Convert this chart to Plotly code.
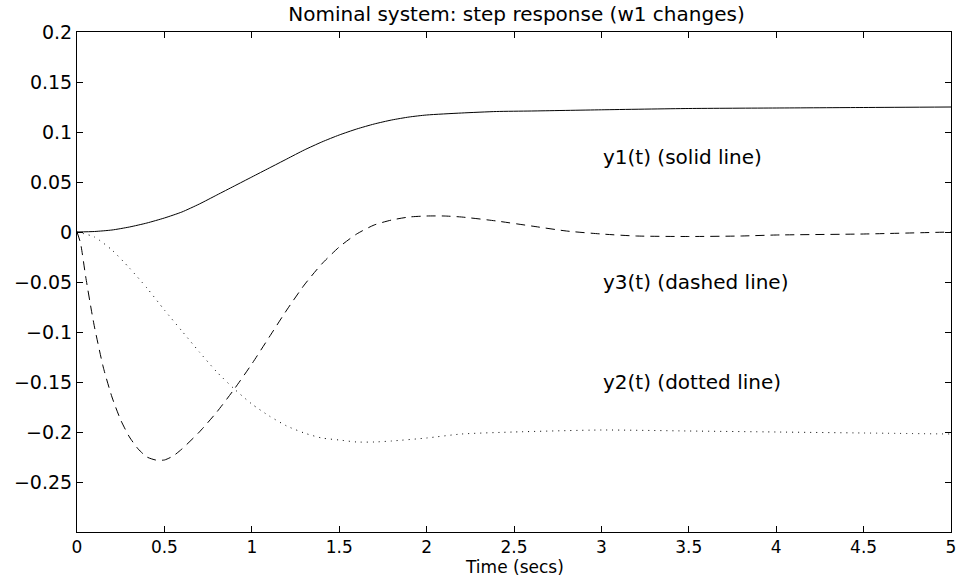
import plotly.graph_objects as go

t1 = [0, 0.1, 0.2, 0.3, 0.4, 0.5, 0.6, 0.7, 0.8, 0.9, 1.0, 1.1, 1.2, 1.3, 1.4, 1.5, 1.6, 1.7, 1.8, 1.9, 2.0, 2.2, 2.4, 2.6, 3.0, 3.5, 4.0, 4.5, 5.0]
y1 = [0, 0.0005, 0.002, 0.005, 0.009, 0.014, 0.020, 0.028, 0.037, 0.046, 0.055, 0.064, 0.073, 0.082, 0.090, 0.097, 0.103, 0.108, 0.112, 0.115, 0.117, 0.119, 0.1205, 0.121, 0.1222, 0.1235, 0.124, 0.1245, 0.125]

t2 = [0, 0.1, 0.2, 0.3, 0.4, 0.5, 0.6, 0.7, 0.8, 0.9, 1.0, 1.1, 1.2, 1.3, 1.4, 1.5, 1.6, 1.7, 1.8, 2.0, 2.2, 2.5, 3.0, 3.5, 4.0, 4.5, 5.0]
y2 = [0, -0.005, -0.018, -0.036, -0.056, -0.078, -0.099, -0.12, -0.14, -0.157, -0.172, -0.184, -0.194, -0.201, -0.206, -0.208, -0.21, -0.21, -0.209, -0.206, -0.202, -0.2, -0.198, -0.199, -0.2, -0.201, -0.202]

t3 = [0, 0.02, 0.05, 0.085, 0.1, 0.15, 0.2, 0.25, 0.3, 0.35, 0.4, 0.45, 0.5, 0.55, 0.6, 0.7, 0.8, 0.9, 1.0, 1.1, 1.2, 1.3, 1.4, 1.5, 1.6, 1.7, 1.8, 1.9, 2.0, 2.1, 2.2, 2.4, 2.6, 2.8, 3.0, 3.2, 3.5, 3.8, 4.0, 4.5, 5.0]
y3 = [0, -0.011, -0.045, -0.081, -0.095, -0.135, -0.165, -0.188, -0.205, -0.217, -0.225, -0.228, -0.228, -0.224, -0.217, -0.2, -0.18, -0.157, -0.132, -0.105, -0.078, -0.053, -0.032, -0.015, -0.002, 0.007, 0.012, 0.015, 0.016, 0.016, 0.015, 0.011, 0.006, 0.001, -0.002, -0.004, -0.0045, -0.004, -0.003, -0.002, 0.0]

labels = ["y1(t) (solid line)", "y3(t) (dashed line)", "y2(t) (dotted line)"]
label_x = [3.0, 3.0, 3.0]
label_y = [0.075, -0.05, -0.15]

xticks = [0, 0.5, 1, 1.5, 2, 2.5, 3, 3.5, 4, 4.5, 5]
xticklabels = ["0", "0.5", "1", "1.5", "2", "2.5", "3", "3.5", "4", "4.5", "5"]
yticks = [-0.25, -0.2, -0.15, -0.1, -0.05, 0, 0.05, 0.1, 0.15, 0.2]
yticklabels = ["\u22120.25", "\u22120.2", "\u22120.15", "\u22120.1", "\u22120.05", "0", "0.05", "0.1", "0.15", "0.2"]

font = "DejaVu Sans, Liberation Sans, Arial, sans-serif"

fig = go.Figure()
fig.add_trace(go.Scatter(x=t1, y=y1, mode="lines", line=dict(color="black", width=1, shape="spline", smoothing=0.6), name="y1"))
fig.add_trace(go.Scatter(x=t3, y=y3, mode="lines", line=dict(color="black", width=1, dash="9px,6px", shape="spline", smoothing=0.6), name="y3"))
fig.add_trace(go.Scatter(x=t2, y=y2, mode="lines", line=dict(color="black", width=1, dash="1px,5px", shape="spline", smoothing=0.6), name="y2"))

for lx, ly, txt in zip(label_x, label_y, labels):
    fig.add_annotation(x=lx, y=ly, text=txt, showarrow=False, xanchor="left", yanchor="middle",
                       font=dict(family=font, size=20, color="black"))

fig.add_annotation(x=0.5, xref="paper", y=0, yref="paper", yanchor="middle", yshift=-35,
                   text="Time (secs)", showarrow=False, font=dict(family=font, size=17, color="black"))

axis_common = dict(showgrid=False, zeroline=False, showline=True, linecolor="black", linewidth=1,
                   mirror="ticks", ticks="inside", ticklen=6, tickcolor="black", tickwidth=1)

fig.update_layout(
    width=966, height=577,
    margin=dict(l=77, r=10, t=32, b=45),
    paper_bgcolor="white", plot_bgcolor="white",
    showlegend=False,
    title=dict(text="Nominal system: step response (w1 changes)", x=(77 + 956) / 2 / 966, xanchor="center",
               y=1 - 14 / 577, yanchor="middle", font=dict(family=font, size=20, color="black")),
    xaxis=dict(range=[0, 5], tickvals=xticks, ticktext=xticklabels,
               tickfont=dict(family=font, size=17, color="black"), **axis_common),
    yaxis=dict(range=[-0.3, 0.2], tickvals=yticks, ticktext=yticklabels,
               tickfont=dict(family=font, size=19, color="black"), **axis_common),
)

fig.write_html("out.html")
